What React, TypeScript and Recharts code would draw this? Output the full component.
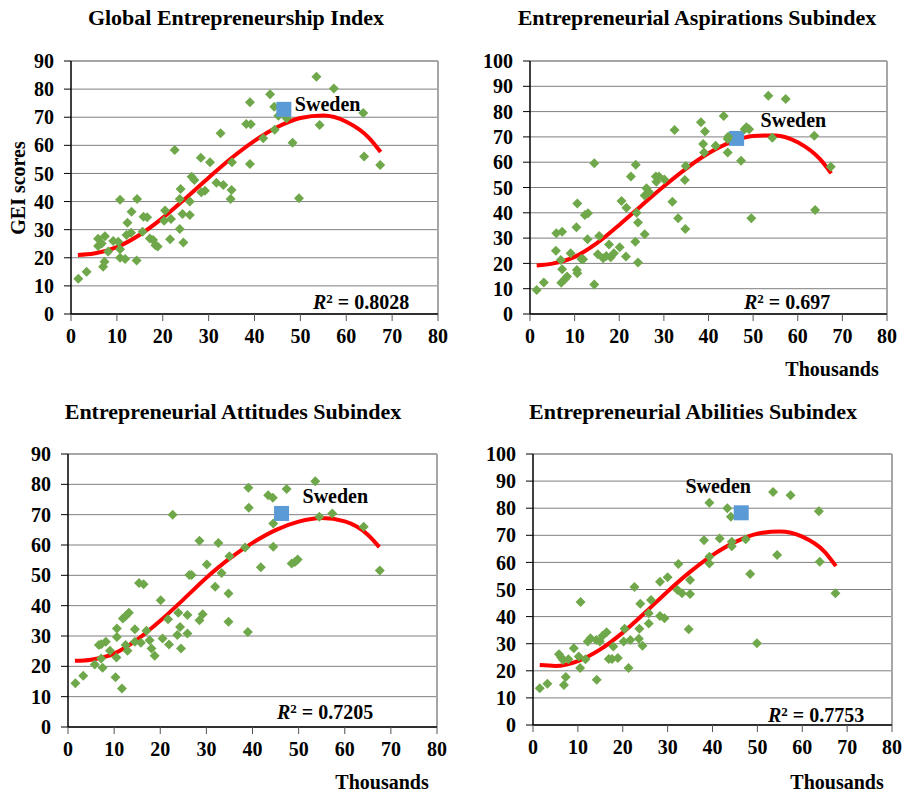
import React from 'react'
import {
  ComposedChart,
  Scatter,
  Line,
  XAxis,
  YAxis,
  CartesianGrid,
  ReferenceLine,
} from 'recharts'

// GDP per capita (thousands) vs. score
const geiPoints: [number, number][] = [
  [1.6, 12.5], [3.4, 15], [5.9, 26.8], [6.7, 25.1], [5.9, 24.2], [7.4, 27.7], [7.3, 18.6], [7, 16.8],
  [8.1, 22.2], [9.2, 26], [10.3, 25.7], [10.7, 23], [10.7, 20], [11.8, 19.6], [10.7, 40.6], [12.3, 32.5],
  [13.2, 36.4], [12.1, 28.1], [13.1, 28.9], [14.4, 40.9], [14.3, 19], [15.8, 34.6], [16.6, 34.4], [15.6, 29.3],
  [17.2, 26.9], [17.9, 26.3], [18.4, 24.5], [18.9, 24], [20.5, 36.8], [20.3, 33.2], [21.8, 33.8], [21.6, 26.6],
  [22.6, 58.3], [23.9, 44.5], [23.7, 40.9], [23.7, 30.2], [24.3, 35.6], [24.5, 25.4], [25.9, 40], [25.9, 35.2],
  [26.3, 48.8], [26.9, 47.7], [28.3, 55.6], [28.4, 43.3], [29.2, 43.8], [30.3, 54], [31.7, 46.7], [32.6, 64.3],
  [33.2, 45.9], [34.8, 40.9], [35, 44.1], [35.1, 54], [38.2, 67.6], [39.2, 67.5], [39, 75.3], [39, 53.4],
  [41.9, 62.5], [43.4, 78.2], [44.3, 73.7], [44.4, 65.5], [45.2, 70.5], [47, 69.6], [48.3, 60.9], [49.7, 41.2],
  [53.5, 84.4], [54.2, 67.2], [57.3, 80.2], [63.7, 71.5], [63.9, 56], [67.4, 53],
]
const geiSweden: [number, number][] = [[46.4, 72.8]]
const geiTrend: [number, number][] = [
  [1.5, 21.0], [5, 21.5], [10, 23.8], [15, 28.2], [20, 34.2], [25, 41.2], [30, 48.5], [35, 55.5],
  [40, 61.6], [45, 66.5], [50, 69.7], [55, 70.6], [60, 68.4], [65, 62.6], [67.5, 57.6],
]

const aspPoints: [number, number][] = [
  [1.5, 9.5], [3.1, 12.5], [5.8, 25], [5.9, 31.9], [7.2, 32.5], [6.9, 21.3], [7.2, 17.7], [7, 12.4],
  [7.8, 13.7], [8.3, 14.8], [9.1, 24], [10.4, 34.3], [10.6, 43.7], [10.5, 17.4], [10.6, 16.1], [11.5, 21.7],
  [11.9, 21.6], [12.3, 39.1], [13, 39.8], [12.9, 29.5], [14.4, 59.6], [14.4, 11.7], [15.5, 30.8], [15.2, 23.6],
  [16.4, 22], [17.1, 22.9], [17.7, 27.5], [18.1, 22.4], [18.8, 24], [20.1, 26.4], [20.5, 44.7], [21.6, 42],
  [21.5, 22.7], [22.6, 54.3], [23.7, 59], [23.9, 40], [24.2, 36.2], [23.6, 28.6], [24.2, 20.4], [25.7, 31.5],
  [25.7, 46.8], [26.1, 49.7], [26.7, 48.1], [28.2, 54.3], [28.3, 52.3], [28.9, 54.3], [30.1, 53.2], [31.9, 44.4],
  [32.4, 72.7], [33.2, 37.8], [34.7, 53], [34.8, 33.6], [34.9, 58.5], [38.3, 75.8], [38.8, 67.2], [39.2, 72.1],
  [39, 63.8], [41.6, 66.5], [43.4, 78.3], [44.3, 63.8], [44.4, 70.1], [44.3, 69.2], [47.3, 60.6], [48.1, 73],
  [48.5, 73.8], [49.1, 73], [49.6, 37.8], [53.4, 86.3], [54.3, 69.7], [57.3, 85], [63.7, 70.5], [63.9, 41.1],
  [67.4, 58.2],
]
const aspSweden: [number, number][] = [[46.3, 69.4]]
const aspTrend: [number, number][] = [
  [1.5, 19.2], [5, 19.9], [10, 22.6], [15, 28.0], [20, 35.2], [25, 42.9], [30, 50.5], [35, 57.5],
  [40, 63.5], [45, 67.9], [50, 70.4], [55, 70.6], [60, 67.9], [65, 61.2], [67.5, 55.6],
]

const attPoints: [number, number][] = [
  [1.6, 14.4], [3.3, 16.9], [5.8, 20.6], [6.7, 27], [7.2, 27.3], [7.5, 19.5], [7.2, 22.6], [8.2, 28.1],
  [9.1, 25.1], [10.3, 16.4], [10.6, 32.5], [10.6, 29.7], [10.5, 22.9], [11.7, 12.7], [11.9, 35.8], [12.5, 36.6],
  [13.2, 37.7], [12.9, 25.1], [12.5, 27], [14.5, 32.2], [14.5, 28.1], [15.4, 47.5], [16.4, 47.1], [15.8, 27.8],
  [17, 31.7], [17.7, 28.6], [18.1, 25.9], [18.8, 23.5], [20.1, 41.8], [20.5, 29.2], [21.7, 35.5], [21.9, 27.2],
  [22.7, 70], [23.9, 37.7], [23.7, 30.3], [24.3, 33], [24.5, 25.9], [25.9, 36.9], [25.9, 30.8], [26.3, 50.1],
  [26.8, 50.1], [28.5, 61.4], [28.5, 35.2], [29.2, 37.2], [30.1, 53.6], [31.9, 46.2], [32.6, 60.7], [33.3, 50.8],
  [35, 56.3], [34.8, 44], [34.8, 34.7], [38.4, 59.2], [39.1, 78.9], [39.2, 72.3], [39, 31.3], [41.8, 52.7],
  [43.4, 76.4], [44.4, 75.6], [44.5, 67.1], [44.5, 59.4], [47.4, 78.5], [48.5, 53.9], [49.2, 54.4], [49.8, 55.2],
  [53.6, 81], [54.5, 69.3], [57.3, 70.4], [64.1, 66], [67.6, 51.6],
]
const attSweden: [number, number][] = [[46.3, 70.4]]
const attTrend: [number, number][] = [
  [1.5, 21.8], [5, 22.2], [10, 24.2], [15, 28.8], [20, 35.0], [25, 42.0], [30, 49.2], [35, 55.5],
  [40, 60.7], [45, 64.9], [50, 67.7], [55, 68.9], [60, 67.8], [65, 63.4], [67.5, 59.3],
]

const abiPoints: [number, number][] = [
  [1.5, 13.6], [3.2, 15.2], [5.8, 26.1], [6.3, 24.9], [6.7, 24], [6.9, 14.8], [7.3, 17.7], [7.9, 24.3],
  [9.1, 28.3], [10.2, 25.3], [10.6, 45.4], [10.5, 21], [11.7, 24.3], [12.2, 30.8], [12.8, 32], [14.1, 31.4],
  [14.2, 16.7], [14.9, 30.8], [15.5, 32.9], [16.4, 34.2], [16.9, 24.4], [17.6, 24.4], [17.9, 29], [18.9, 24.7],
  [20.2, 30.8], [20.4, 35.5], [21.3, 21], [21.7, 31.4], [22.6, 50.9], [23.6, 31.8], [23.7, 35.5], [23.9, 44.7],
  [24.4, 29.2], [25.8, 37.5], [26.3, 46.1], [25.8, 41.2], [28.3, 52.9], [28.3, 40.2], [29.3, 39.4], [30, 54.5],
  [32.4, 59.4], [32.2, 49.8], [33.2, 48.6], [34.7, 35.3], [35, 48.3], [35, 53.5], [38.1, 68.2], [39.3, 82],
  [39.3, 62.1], [39.3, 59.6], [41.6, 68.8], [43.3, 80], [44.1, 76.8], [44.3, 66], [44.3, 67.6], [47.4, 68.5],
  [48.4, 55.7], [49.9, 30.2], [53.5, 86], [54.4, 62.7], [57.4, 84.8], [63.7, 78.9], [63.9, 60.2], [67.4, 48.6],
]
const abiSweden: [number, number][] = [[46.4, 78.3]]
const abiTrend: [number, number][] = [
  [1.5, 22.1], [5, 21.8], [10, 23.6], [15, 27.9], [20, 34.1], [25, 41.5], [30, 49.3], [35, 56.5],
  [40, 62.7], [45, 67.5], [50, 70.6], [55, 71.4], [60, 69.5], [65, 63.9], [67.5, 58.6],
]

const xTicks = [0, 10, 20, 30, 40, 50, 60, 70, 80]
const yTicks90 = [0, 10, 20, 30, 40, 50, 60, 70, 80, 90]
const yTicks100 = [0, 10, 20, 30, 40, 50, 60, 70, 80, 90, 100]

const FONT = '"Liberation Serif", "Times New Roman", serif'
const GREEN = '#6FA84A'
const BLUE = '#5B9BD5'

const toXY = (arr: [number, number][]) => arr.map(([x, y]) => ({ x, y }))

const Diamond = (props: any) => {
  const { cx, cy } = props
  if (cx == null || cy == null) return null
  const r = 5
  return <path d={`M${cx},${cy - r}L${cx + r},${cy}L${cx},${cy + r}L${cx - r},${cy}Z`} fill={GREEN} />
}

function makeSweden(dx: number, dy: number, anchor: 'start' | 'middle') {
  return (props: any) => {
    const { cx, cy } = props
    if (cx == null || cy == null) return null
    return (
      <g>
        <rect x={cx - 7.5} y={cy - 7.5} width={15} height={15} fill={BLUE} />
        <text
          x={cx + dx}
          y={cy + dy}
          textAnchor={anchor}
          dominantBaseline="central"
          fontFamily={FONT}
          fontWeight="bold"
          fontSize={20}
          fill="#000"
        >
          Sweden
        </text>
      </g>
    )
  }
}

interface PanelProps {
  left: number
  top: number
  width: number
  height: number
  marginTop: number
  marginRight: number
  yAxisWidth: number
  yMax: number
  points: [number, number][]
  sweden: [number, number][]
  trend: [number, number][]
  label: { dx: number; dy: number; anchor: 'start' | 'middle' }
  swedenBehind?: boolean
}

function Panel(p: PanelProps) {
  const tickStyle = { fontSize: 20, fontWeight: 'bold', fill: '#000', fontFamily: FONT }
  const swedenShape = makeSweden(p.label.dx, p.label.dy, p.label.anchor)
  const swedenSeries = (
    <Scatter key="sw" data={toXY(p.sweden)} shape={swedenShape} isAnimationActive={false} />
  )
  return (
    <div style={{ position: 'absolute', left: p.left, top: p.top }}>
      <ComposedChart
        width={p.width}
        height={p.height}
        margin={{ top: p.marginTop, right: p.marginRight, left: 0, bottom: 0 }}
      >
        <CartesianGrid vertical={false} stroke="#7F7F7F" strokeWidth={1} />
        <XAxis
          type="number"
          dataKey="x"
          domain={[0, 80]}
          ticks={xTicks}
          interval={0}
          height={46}
          tick={tickStyle}
          tickSize={7}
          tickMargin={8}
          axisLine={{ stroke: '#000', strokeWidth: 1.5 }}
          tickLine={{ stroke: '#555' }}
        />
        <YAxis
          type="number"
          dataKey="y"
          domain={[0, p.yMax]}
          ticks={p.yMax === 90 ? yTicks90 : yTicks100}
          interval={0}
          width={p.yAxisWidth}
          tick={tickStyle}
          tickSize={7}
          tickMargin={10}
          axisLine={{ stroke: '#000', strokeWidth: 1.5 }}
          tickLine={{ stroke: '#000' }}
        />
        <ReferenceLine y={p.yMax} stroke="#A6A6A6" strokeWidth={2} />
        <ReferenceLine x={80} stroke="#A6A6A6" strokeWidth={2} />
        {p.swedenBehind ? swedenSeries : null}
        <Scatter data={toXY(p.points)} shape={Diamond} isAnimationActive={false} />
        {p.swedenBehind ? null : swedenSeries}
        <Line
          data={toXY(p.trend)}
          dataKey="y"
          type="monotone"
          stroke="#FF0000"
          strokeWidth={4}
          dot={false}
          isAnimationActive={false}
        />
      </ComposedChart>
    </div>
  )
}

const Txt = ({ x, y, children, size = 20, rotate = 0 }: any) => (
  <div
    style={{
      position: 'absolute',
      left: x,
      top: y,
      transform: `translate(-50%, -50%) rotate(${rotate}deg)`,
      whiteSpace: 'nowrap',
      fontFamily: FONT,
      fontWeight: 'bold',
      fontSize: size,
      lineHeight: 1,
      color: '#000',
    }}
  >
    {children}
  </div>
)

const R2 = ({ x, y, value }: { x: number; y: number; value: string }) => (
  <Txt x={x} y={y}>
    <i>R</i>
    <sup style={{ fontSize: 13, verticalAlign: 'top', lineHeight: 1 }}>2</sup> = {value}
  </Txt>
)

export default function App() {
  return (
    <div
      style={{
        position: 'absolute',
        left: 0,
        top: 0,
        width: 907,
        height: 793,
        background: '#fff',
        overflow: 'hidden',
      }}
    >
      <Txt x={236} y={18} size={22}>Global Entrepreneurship Index</Txt>
      <Txt x={697} y={18} size={22}>Entrepreneurial Aspirations Subindex</Txt>
      <Txt x={233} y={412} size={22}>Entrepreneurial Attitudes Subindex</Txt>
      <Txt x={693} y={412} size={22}>Entrepreneurial Abilities Subindex</Txt>
      <Txt x={18} y={188} rotate={-90}>GEI scores</Txt>

      <Panel
        left={0} top={40} width={450} height={320}
        marginTop={21} marginRight={12} yAxisWidth={71} yMax={90}
        points={geiPoints} sweden={geiSweden} trend={geiTrend}
        label={{ dx: 11, dy: -5, anchor: 'start' }}
      />
      <Panel
        left={455} top={40} width={450} height={320}
        marginTop={21} marginRight={18} yAxisWidth={75} yMax={100}
        points={aspPoints} sweden={aspSweden} trend={aspTrend}
        label={{ dx: 24, dy: -18, anchor: 'start' }}
        swedenBehind
      />
      <Panel
        left={0} top={420} width={450} height={353}
        marginTop={34} marginRight={13} yAxisWidth={68} yMax={90}
        points={attPoints} sweden={attSweden} trend={attTrend}
        label={{ dx: 21, dy: -17, anchor: 'start' }}
      />
      <Panel
        left={455} top={420} width={450} height={351}
        marginTop={34} marginRight={13} yAxisWidth={78} yMax={100}
        points={abiPoints} sweden={abiSweden} trend={abiTrend}
        label={{ dx: -23, dy: -27, anchor: 'middle' }}
      />

      <R2 x={361} y={302} value="0.8028" />
      <R2 x={787} y={302} value="0.697" />
      <R2 x={325} y={712} value="0.7205" />
      <R2 x={816} y={715} value="0.7753" />

      <Txt x={832} y={369}>Thousands</Txt>
      <Txt x={382} y={782}>Thousands</Txt>
      <Txt x={837} y={782}>Thousands</Txt>
    </div>
  )
}
